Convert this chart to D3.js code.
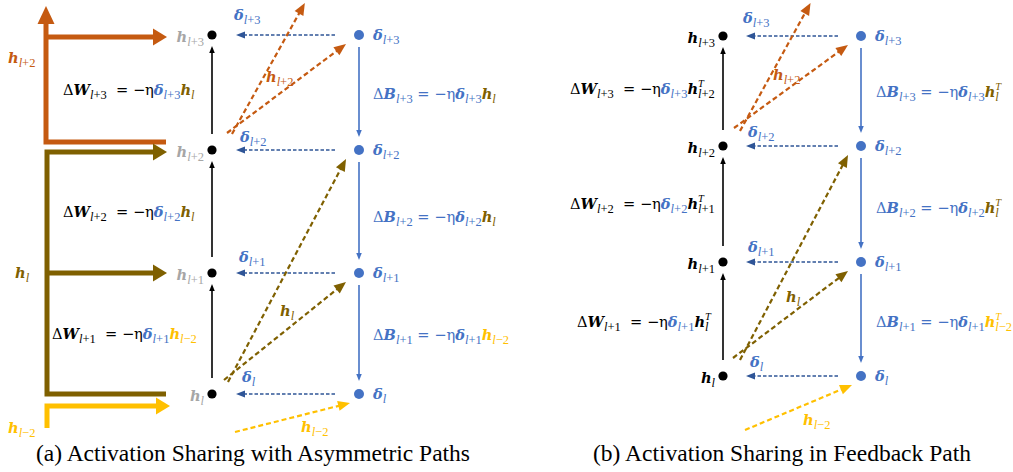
<!DOCTYPE html>
<html><head><meta charset="utf-8">
<script src="https://cdn.jsdelivr.net/npm/d3@7"></script>
<style>body{margin:0;background:#fff}svg{display:block}text{white-space:pre}</style>
</head><body>
<svg id="c" width="1013" height="472"></svg>
<script>
// ---------- data ----------
const levels = ["l", "l+1", "l+2", "l+3"];
const wFactorA = ["l−2", "l", "l"];      // ΔW_{l+1..l+3} = −η δ h_x   (panel a)
const bFactorA = ["l−2", "l", "l"];      // ΔB_{l+1..l+3} = −η δ h_x   (panel a)
const wFactorB = ["l", "l+1", "l+2"];    // ΔW_{l+1..l+3} = −η δ h_x^T (panel b)
const bFactorB = ["l−2", "l", "l"];      // ΔB_{l+1..l+3} = −η δ h_x^T (panel b)
const shared = [
  { h: "l+2", targets: ["l+3", "l+4"] },
  { h: "l",   targets: ["l+1", "l+2"] },
  { h: "l−2", targets: ["l"] }
];
const captions = ["(a) Activation Sharing with Asymmetric Paths", "(b) Activation Sharing in Feedback Path"];
const hColor = { "l+2": "#c55a11", "l": "#7f6000", "l−2": "#ffc000" };

// ---------- style ----------
const BLUE = "#4472c4", DBLUE = "#2f5597", GRAY = "#a6a6a6";
const MF = "DejaVu Serif", CF = "Liberation Serif";
const MS = 14.6, SS = 12.5;

const svg = d3.select("#c");

function subToks(s, c) {
  const toks = [];
  if (s[0] === "l") { toks.push({ t: "l", c, sub: 1, it: 1 }); s = s.slice(1); }
  if (s.length) toks.push({ t: s, c, sub: 1 });
  return toks;
}
function M(t, c) { return { t, c, b: 1, it: 1 }; }
function R(t, c) { return { t, c }; }

function rich(g, x, y, toks, anchor, baseColor) {
  const t = g.append("text").attr("x", x).attr("y", y)
    .attr("font-family", MF).attr("text-anchor", anchor || "start")
    .attr("fill", baseColor || "#000");
  let cur = 0, prevW = 0;
  toks.forEach(tok => {
    const small = tok.sub || tok.sup;
    const shift = tok.sub ? 3.5 : tok.sup ? -7.5 : 0;
    const ts = t.append("tspan").text(tok.t)
      .attr("dy", shift - cur)
      .attr("font-size", small ? (tok.sup ? SS - 2 : SS) : MS)
      .attr("font-family", small ? CF : MF)
      .attr("font-weight", tok.b ? "bold" : "normal")
      .attr("font-style", tok.it ? "italic" : "normal");
    if (tok.c) ts.attr("fill", tok.c);
    if (tok.back) ts.attr("dx", -prevW);
    cur = shift;
    prevW = ts.node().getComputedTextLength();
  });
  return t;
}

function head(g, x1, y1, x2, y2, len, w, color) {
  const a = Math.atan2(y2 - y1, x2 - x1), c = Math.cos(a), s = Math.sin(a);
  const bx = x2 - len * c, by = y2 - len * s;
  g.append("polygon").attr("fill", color).attr("points",
    [[x2, y2], [bx - w / 2 * s, by + w / 2 * c], [bx + w / 2 * s, by - w / 2 * c]].map(p => p.join(",")).join(" "));
}
function arrow(g, x1, y1, x2, y2, o) {
  const a = Math.atan2(y2 - y1, x2 - x1);
  const ex = x2 - o.len * 0.85 * Math.cos(a), ey = y2 - o.len * 0.85 * Math.sin(a);
  g.append("line").attr("x1", x1).attr("y1", y1).attr("x2", ex).attr("y2", ey)
    .attr("stroke", o.color).attr("stroke-width", o.width)
    .attr("stroke-dasharray", o.dash || null);
  head(g, x1, y1, x2, y2, o.len, o.hw, o.color);
}

// ---------- panel layouts ----------
const panels = [
  { xH: 212, xD: 359, ys: [394, 273, 150, 35], hLabelColor: GRAY, dashTip: 236, dashStart: 335,
    wF: wFactorA, bF: bFactorA, T: false,
    wPos: [[52, 339], [63, 217], [63, 95]], bPos: [[373, 340], [373, 222], [373, 99]],
    dLab: [[242, 382], [239, 262], [240, 142], [234, 20]],
    diagStart: { "l+2": [[15, -17], [20, -16]], "l": [[12, -14], [16, -12]], "l−2": [[-124, 38]] },
    diagLab: { "l+2": [266, 82], "l": [280, 316], "l−2": [301, 432] },
    cap: [253, 461] },
  { xH: 723, xD: 861, ys: [376, 262, 146, 36], hLabelColor: "#000", dashTip: 746, dashStart: 838,
    wF: wFactorB, bF: bFactorB, T: true,
    wPos: [[577, 327], [570, 209], [570, 94]], bPos: [[876, 327], [876, 213], [876, 97]],
    dLab: [[750, 367], [748, 252], [748, 137], [743, 23]],
    diagStart: { "l+2": [[11, -18], [17, -15]], "l": [[10, -18], [17, -16]], "l−2": [[-116, 54]] },
    diagLab: { "l+2": [773, 80], "l": [786, 302], "l−2": [803, 425] },
    cap: [782, 461] }
];

panels.forEach((P, pi) => {
  const g = svg.append("g");
  const y = d3.scaleOrdinal().domain(levels).range(P.ys);
  const yOf = lv => lv === "l+4" ? 2 * P.ys[3] - P.ys[2] : y(lv);

  // vertical solid arrows
  levels.slice(1).forEach((lv, i) => {
    const below = levels[i];
    arrow(g, P.xH, y(below) - 16, P.xH, y(lv) + 11, { color: "#000", width: 1.6, len: 7, hw: 5.5 });
    arrow(g, P.xD, y(lv) + 12, P.xD, y(below) - 13, { color: BLUE, width: 1.6, len: 7, hw: 5.5 });
  });
  // dashed feedback arrows
  levels.forEach(lv => {
    arrow(g, P.dashStart, y(lv), P.dashTip, y(lv), { color: DBLUE, width: 1.3, dash: "3.5,2", len: 9, hw: 7 });
  });
  // diagonal shared-activation arrows
  shared.forEach(s => {
    const col = hColor[s.h];
    s.targets.forEach((tg, k) => {
      const off = P.diagStart[s.h][k];
      let x1, y1;
      if (s.h === "l−2") { x1 = P.xD + off[0]; y1 = y("l") + off[1]; }
      else { x1 = P.xH + off[0]; y1 = y(s.h) + off[1]; }
      let x2 = P.xD - 13, y2 = yOf(tg) + 9;
      if (s.h === "l−2") { x2 = P.xD - 9; y2 = y(tg) + 9; }
      if (tg === "l+4") { // clipped at top of canvas
        const tt = (y1 - 3) / (y1 - y2);
        x2 = x1 + (x2 - x1) * tt; y2 = 3;
      }
      arrow(g, x1, y1, x2, y2, { color: col, width: 2.2, dash: "5,3", len: 12, hw: 10 });
    });
    const lp = P.diagLab[s.h];
    rich(g, lp[0], lp[1], [M("h", col), ...subToks(s.h, col)]);
  });
  // nodes
  g.selectAll("circle.h").data(levels).join("circle").attr("cx", P.xH).attr("cy", d => y(d)).attr("r", 4.6).attr("fill", "#000");
  g.selectAll("circle.d").data(levels).join("circle").attr("cx", P.xD).attr("cy", d => y(d)).attr("r", 5).attr("fill", BLUE);
  // node labels
  levels.forEach((lv, i) => {
    rich(g, P.xH - 8, y(lv) + 7, [M("h", P.hLabelColor), ...subToks(lv, P.hLabelColor)], "end");
    rich(g, P.xD + 14, y(lv) + 5, [M("δ", BLUE), ...subToks(lv, BLUE)]);
    const dl = P.dLab[i];
    rich(g, dl[0], dl[1], [M("δ", BLUE), ...subToks(lv, BLUE)]);
  });
  // update formulas
  levels.slice(1).forEach((lv, i) => {
    const wf = P.wF[i], wc = P.T ? "#000" : hColor[wf];
    const tTok = P.T ? [{ t: "T", c: wc, sup: 1, it: 1 }] : [];
    const backSub = subToks(wf, wc); if (P.T) backSub[0].back = 1;
    rich(g, P.wPos[i][0], P.wPos[i][1], [R("Δ"), M("W"), ...subToks(lv), R("  = −η"), M("δ", BLUE), ...subToks(lv, BLUE),
      M("h", wc), ...tTok, ...backSub]);
    const bf = P.bF[i], bc = hColor[bf];
    const tTok2 = P.T ? [{ t: "T", c: bc, sup: 1, it: 1 }] : [];
    const backSub2 = subToks(bf, bc); if (P.T) backSub2[0].back = 1;
    rich(g, P.bPos[i][0], P.bPos[i][1], [R("Δ", BLUE), M("B", BLUE), ...subToks(lv, BLUE), R(" = −η", BLUE), M("δ", BLUE), ...subToks(lv, BLUE),
      M("h", bc), ...tTok2, ...backSub2]);
  });
  g.append("text").attr("x", P.cap[0]).attr("y", P.cap[1]).attr("text-anchor", "middle")
    .attr("font-family", CF).attr("font-size", 23.5).text(captions[pi]);
});

// ---------- thick activation-sharing paths (panel a) ----------
(function () {
  const g = svg.append("g");
  const y = d3.scaleOrdinal().domain(levels).range(panels[0].ys);
  const X0 = 46, XE = 166, TIP = 167, HL = 14, HW = 17, SW = 5;
  const orange = hColor["l+2"], olive = hColor["l"], gold = hColor["l−2"];
  // orange: from l+2 up to l+3 and beyond
  g.append("path").attr("d", `M${XE},${y("l+2") - 8} H${X0} V${24}`).attr("fill", "none").attr("stroke", orange).attr("stroke-width", SW);
  head(g, X0, 100, X0, 6, 18, HW, orange);
  g.append("line").attr("x1", X0).attr("x2", TIP - HL + 1).attr("y1", y("l+3") + 2).attr("y2", y("l+3") + 2).attr("stroke", orange).attr("stroke-width", SW);
  head(g, X0, y("l+3") + 2, TIP, y("l+3") + 2, HL, HW, orange);
  // olive: from l up to l+1, l+2
  g.append("path").attr("d", `M${XE},${y("l")} H${X0 + 1} V${y("l+2") + 2} H${TIP - HL + 1}`).attr("fill", "none").attr("stroke", olive).attr("stroke-width", SW);
  head(g, X0, y("l+2") + 2, TIP, y("l+2") + 2, HL, HW, olive);
  g.append("line").attr("x1", X0).attr("x2", TIP - HL + 1).attr("y1", y("l+1")).attr("y2", y("l+1")).attr("stroke", olive).attr("stroke-width", SW);
  head(g, X0, y("l+1"), TIP, y("l+1"), HL, HW, olive);
  // gold: from l-2 into l
  g.append("path").attr("d", `M${X0 + 1},${y("l") + 34} V${y("l") + 12} H${TIP - HL + 3}`).attr("fill", "none").attr("stroke", gold).attr("stroke-width", SW);
  head(g, X0, y("l") + 12, TIP + 3, y("l") + 12, HL, HW, gold);
  rich(g, 8, 63, [M("h", orange), ...subToks("l+2", orange)]);
  rich(g, 15, 278, [M("h", olive), ...subToks("l", olive)]);
  rich(g, 8, 433, [M("h", gold), ...subToks("l−2", gold)]);
})();
</script>
</body></html>
